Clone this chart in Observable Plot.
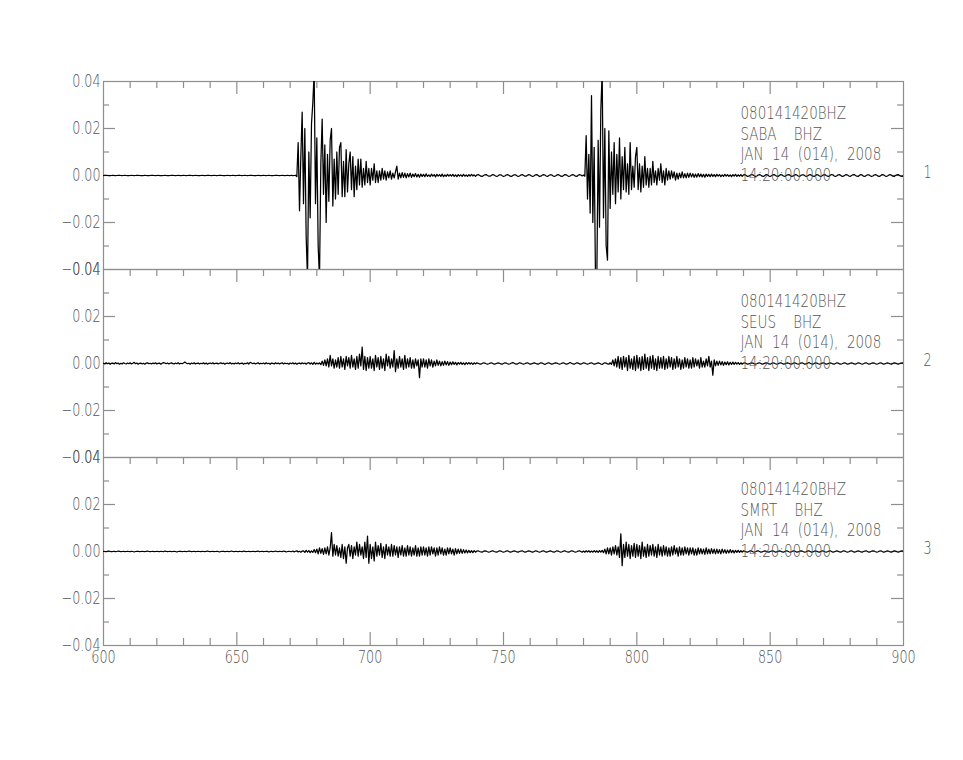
<!DOCTYPE html>
<html>
<head>
<meta charset="utf-8">
<script src="https://cdn.jsdelivr.net/npm/d3@7"></script>
<script src="https://cdn.jsdelivr.net/npm/@observablehq/plot@0.6"></script>
<style>
  html, body { margin: 0; padding: 0; background: #fff; }
  #wrap { position: relative; width: 963px; height: 760px; overflow: hidden; }
  #wrap svg { position: absolute; left: 0; }
</style>
</head>
<body>
<div id="wrap"></div>
<script>
// ---- data: ground velocity, units of 1e-3 (plotted as value/1000), sampled every 0.5 s from t = 600 s
const t0 = 600;
const dt = 0.5;

const saba = [
  0,0.1,0.1,0,-0.1,-0.1,0,0.1,0,-0.1,0,0.1,0.1,0,-0.1,0,0.1,0,-0.1,-0.1,
  0,0.1,0,-0.1,0,0.1,0.1,0,-0.1,0,0,0.1,0,-0.1,-0.1,0,0.1,0.1,0,-0.1,
  0,0.1,0,0,-0.1,0,0.1,0,-0.1,-0.1,0,0.1,0.1,0,-0.1,0,0.1,0,-0.1,0,
  0.1,0,-0.1,0,0.1,0.1,0,-0.1,0,0.1,0,-0.1,-0.1,0,0.1,0,-0.1,0,0.1,0.1,
  0,-0.1,0,0.1,0,-0.1,0,0.1,0.1,0,-0.1,-0.1,0,0.1,0,-0.1,0,0.1,0,-0.1,
  0,0.1,0.1,0,-0.1,0,0.1,0,-0.1,0,0.1,0.1,0,-0.1,-0.1,0,0.1,0,-0.1,0,
  0.1,0,-0.1,0,0.1,0,-0.1,-0.1,0,0.1,0.1,0,-0.1,0,0.1,0,-0.1,0,0.1,0,
  0,0.1,-0.1,0,0.1,-0.5,14,-15,8,27,-12,20,-26,-44,10,-18,22,31,44,-12,
  16,-30,-44,5,24,-8,13,-20,9,-11,15,20,-13,7,-10,10,-8,12,14,-9,
  6,-9,11,-7,5,10,-6,8,-9,4,-6,7,-4,7,-5,3,-4,6,-3,3,
  -4,3,-2,5,-3,2,-3,2,-2,3,-1.5,2,-2,1.5,-1,2,-1.5,1,-1,1.5,
  4,-1.5,1,-1,1.2,-0.8,1,-1,0.8,-0.6,1,-0.8,0.6,-0.5,0.8,-0.6,0.5,-0.7,0.6,-0.4,
  0.5,-0.5,0.7,-0.4,0.3,-0.5,0.6,-0.3,0.4,-0.6,0.5,-0.3,0.4,-0.4,0.6,-0.5,0.3,-0.4,0.5,-0.3,
  0.4,-0.3,0.5,-0.4,0.3,-0.5,0.4,-0.2,0.3,-0.4,0.5,-0.3,0.2,-0.4,0.4,-0.3,0.5,-0.2,0.3,-0.4,
  0.2,0.4,0.1,-0.3,-0.4,0,0.3,0.4,0,-0.3,-0.3,0.1,0.4,0.2,-0.2,-0.4,-0.1,0.3,0.3,-0.1,
  -0.4,-0.2,0.2,0.4,0.1,-0.3,-0.4,0,0.3,0.3,-0.1,-0.4,-0.2,0.2,0.4,0.1,-0.3,-0.3,0.1,0.4,
  0.2,-0.2,-0.4,-0.1,0.3,0.4,0,-0.4,-0.3,0.1,0.4,0.2,-0.2,-0.4,0,0.3,0.3,-0.1,-0.4,-0.2,
  0.2,0.4,0.1,-0.3,-0.4,0,0.4,0.3,-0.1,-0.4,-0.2,0.2,0.4,0.1,-0.3,-0.4,0.1,0.4,0.2,-0.2,
  0.2,-0.3,17,-10,9,-16,34,-20,12,-44,-44,15,-22,28,44,-18,20,-30,-36,19,
  -14,10,-8,14,-12,9,-7,16,-10,8,-6,12,-7,5,-8,14,-6,4,-5,8,
  12,-6,5,-7,4,-5,8,-4,3,-5,3,-4,6,-3,2,-4,3,-2,5,-3,
  2,-4,3,-2,2,-1.5,2,-1,1.5,-2,1,-1.5,1,-1,1.5,-1,0.8,-1,1,-0.8,
  1,-0.6,0.8,-0.8,0.6,-0.7,0.8,-0.5,0.6,-0.6,0.5,-0.7,0.6,-0.4,0.5,-0.5,0.6,-0.4,0.4,-0.5,
  0.5,-0.3,0.4,-0.5,0.3,-0.4,0.5,-0.3,0.4,-0.4,0.3,-0.5,0.4,-0.3,0.5,-0.4,0.3,-0.3,0.4,-0.4,
  0.3,0.4,0,-0.4,-0.3,0.1,0.4,0.3,-0.1,-0.4,-0.2,0.2,0.4,0.1,-0.3,-0.4,0,0.4,0.3,-0.2,
  -0.4,-0.1,0.3,0.4,0,-0.3,-0.4,0.1,0.4,0.2,-0.2,-0.4,0,0.3,0.4,0,-0.4,-0.3,0.1,0.4,
  0.2,-0.2,-0.4,0,0.3,0.3,-0.1,-0.4,-0.2,0.2,0.4,0.1,-0.3,-0.4,0,0.4,0.2,-0.2,-0.4,-0.1,
  0.3,0.4,0,-0.3,-0.4,0.1,0.4,0.3,-0.2,-0.4,-0.1,0.3,0.4,0,-0.4,-0.3,0.1,0.4,0.2,-0.2,
  -0.4,0,0.3,0.4,0,-0.3,-0.4,0.1,0.4,0.2,-0.3,-0.4,0,0.3,0.3,-0.1,-0.4,-0.2,0.2,0.4,
  0.1,-0.3,-0.4,0,0.4,0.3,-0.1,-0.4,-0.2,0.2,0.4,0.1,-0.3,-0.4,0,0.3,0.4,0,-0.3,-0.4,
  0
];

const seus = [
  0.1,-0.2,0.3,-0.1,0.2,-0.3,0.1,0.2,-0.2,0.4,-0.1,0.2,-0.3,0.1,-0.2,0.3,0,-0.2,0.2,-0.1,
  0.3,-0.2,0.1,0.5,-0.1,0.2,-0.3,0.1,0.2,-0.2,0.1,-0.3,0.2,0.3,-0.1,0.1,-0.2,0.2,-0.1,0.3,
  -0.2,0.1,0.2,-0.3,0.1,0.4,0.2,-0.1,0.2,-0.2,0.1,0.3,-0.1,-0.2,0.2,-0.1,0.3,-0.2,0.1,-0.1,
  0.2,0.6,0.2,-0.1,0.1,-0.3,0.2,-0.1,0.3,-0.2,0.1,0.2,-0.2,0.1,-0.1,0.3,-0.2,0.2,-0.3,0.1,
  0.2,-0.1,0.3,-0.2,0.1,0.2,-0.2,0.1,0.3,-0.1,0.2,-0.3,0.1,0.2,-0.1,0.4,-0.2,0.1,-0.2,0.2,
  -0.1,0.3,-0.2,0.1,0.2,-0.3,0.1,-0.1,0.3,-0.2,0.5,0.2,-0.1,0.2,-0.2,0.1,0.3,-0.2,0.1,-0.1,
  0.2,-0.2,0.3,-0.1,0.1,-0.3,0.2,0.1,-0.2,0.3,-0.1,0.2,-0.2,0.1,0.3,-0.2,0.2,-0.1,0.1,-0.3,
  0.2,-0.1,0.3,-0.2,0.2,-0.3,0.1,0.2,-0.2,0.3,-0.1,0.2,-0.3,0.2,0.4,-0.2,0.3,-0.4,0.5,-0.3,
  0.2,-0.2,0.3,-0.5,1,-0.8,1.5,-1,2,-1.5,3.5,-1,2,-2,1.5,-1.5,2.5,-2,3,-1.5,
  2,-2.5,3,-1,2.5,-2,3.5,-1.5,2,-2.5,3,-2,4,-1,7,-2.5,3,-3,2.5,-2,
  3,-2,2,-3,3.5,-1.5,2.5,-2.5,3,-2,2,-3,4,-1,3,-2,2,-1.5,5.5,-3.5,
  2,-2,3,-1.5,2,-2.5,3.5,-2,2,-1.5,2.5,-2,1.5,-2,2,-1,1.5,-6,2,-1.5,
  2,-1.5,1.5,-2,2,-1,1.5,-1.5,1,-1,1.5,-0.8,1,-1,0.8,-0.8,1,-0.6,0.8,-0.8,
  0.6,-0.5,0.7,-0.4,0.5,-0.6,0.4,-0.3,0.5,-0.4,0.3,-0.5,0.4,-0.3,0.4,-0.2,0.3,-0.4,0.3,-0.2,
  0.3,0.1,-0.2,-0.3,0,0.3,0.2,-0.1,-0.3,-0.1,0.2,0.3,0,-0.3,-0.2,0.1,0.3,0.1,-0.2,-0.3,
  0,0.3,0.2,-0.1,-0.3,-0.1,0.2,0.4,0.1,-0.2,-0.3,0,0.3,0.2,-0.1,-0.3,-0.1,0.2,0.3,0,
  -0.3,-0.2,0.1,0.3,0.1,-0.2,-0.3,0,0.3,0.2,-0.1,-0.4,-0.1,0.2,0.3,0,-0.3,-0.2,0.1,0.3,
  0.2,-0.1,-0.3,-0.1,0.2,0.3,0,-0.3,-0.2,0.1,0.4,0.1,-0.2,-0.3,0,0.3,0.2,-0.2,-0.3,0,
  0.3,0.2,-0.1,-0.3,-0.1,0.2,0.3,0,-0.3,-0.2,0.1,0.3,0.1,-0.2,-0.4,0,0.3,0.2,-0.2,-0.3,
  0.3,-0.4,1.5,-1,2,-1.5,3,-2,2.5,-2.5,3,-1.5,2.5,-3,3.5,-2,2,-2.5,3,-3,
  3.5,-2,2.5,-3,3,-2.5,4,-2,2.5,-3,3,-2,3.5,-2.5,2,-3,3,-2,2.5,-2,
  3,-2.5,2,-2,3,-1.5,2.5,-2.5,2,-2,3,-1.5,2,-2.5,1.5,-2,2.5,-1.5,2,-2,
  1.5,-2,2.5,-1.5,2,-1,1.5,-2,2.5,-1.5,1,-1.5,2,-1,3,-1.5,1,-5,1.5,-1,
  1,-0.8,1,-0.6,0.8,-0.8,0.6,-0.5,0.7,-0.6,0.5,-0.4,0.6,-0.4,0.5,-0.3,0.4,-0.4,0.3,-0.3,
  0.2,0.3,0,-0.3,-0.2,0.1,0.3,0.2,-0.1,-0.3,-0.1,0.2,0.3,0,-0.3,-0.2,0.2,0.3,0.1,-0.2,
  -0.3,0,0.3,0.2,-0.1,-0.3,-0.1,0.2,0.3,0,-0.3,-0.2,0.1,0.3,0.1,-0.2,-0.3,0,0.3,0.2,
  -0.1,-0.3,-0.1,0.2,0.3,0,-0.3,-0.2,0.1,0.4,0.1,-0.2,-0.3,0,0.3,0.2,-0.1,-0.3,-0.1,0.2,
  0.3,0,-0.3,-0.2,0.1,0.3,0.1,-0.2,-0.3,0,0.3,0.2,-0.2,-0.3,-0.1,0.2,0.3,0,-0.3,-0.2,
  0.1,0.3,0.1,-0.2,-0.3,0,0.3,0.2,-0.1,-0.3,-0.1,0.2,0.3,0,-0.3,-0.2,0.1,0.3,0.2,-0.1,
  -0.3,-0.1,0.2,0.3,0,-0.3,-0.2,0.1,0.3,0.1,-0.2,-0.3,0,0.3,0.2,-0.1,-0.3,-0.1,0.2,0.3,
  0
];

const smrt = [
  0.1,0,-0.1,0.1,0.2,0,-0.1,0,0.1,-0.1,0,0.2,0.1,-0.1,0,0.1,-0.1,0,0.1,0,
  -0.1,0.1,0,-0.2,0,0.1,0.1,-0.1,0,0.1,0,-0.1,0.1,0.2,0,-0.1,0,0.1,-0.1,0,
  0.1,0,-0.1,0.1,0,-0.1,0.2,0.1,-0.1,0,0.1,-0.1,0,0.1,0,-0.2,0,0.1,0.1,-0.1,
  0,0.1,-0.1,0,0.2,0.1,-0.1,0,0.1,-0.1,0,0.1,0,-0.1,0.1,0,-0.1,0.1,0.2,0,
  -0.1,0,0.1,-0.1,0,0.1,0,-0.2,0,0.1,0.1,-0.1,0,0.1,-0.1,0,0.2,0,-0.1,0.1,
  0,-0.1,0.1,0,-0.1,0.2,0.1,-0.1,0,0.1,-0.1,0,0.1,0,-0.1,0.1,0.2,-0.1,0,0.1,
  -0.1,0,0.1,0.1,-0.2,0,0.1,-0.1,0,0.2,0,-0.1,0.1,0,-0.1,0.2,0.1,-0.2,0,0.1,
  0,-0.1,0.2,-0.2,0.1,0.3,-0.2,0.1,-0.3,0.2,0.3,-0.4,0.5,-0.3,0.4,-0.5,0.3,-0.4,0.8,-0.5,
  1,-1,1.5,-0.8,1.2,-1.2,1.5,-1,2,-1.5,1.5,8,-2,3,-1.5,2.5,-2,1.5,-2.5,3,
  -3,2,-5,1.5,3,-2,2.5,-3,2,-1.5,4,-2,3,-1.5,2,-3,4,-2.5,6.5,-5,
  3,-3,2,-4,4,-2,2.5,-1.5,3.5,-2.5,2,-3,3,-1.5,2,-2,3,-2,2.5,-1.5,
  2,-2.5,2,-1.5,2.5,-2,1.5,-2,2.5,-1.5,2,-2,1.5,-1.5,2.5,-2,1.5,-2,2,-1.5,
  2,-1.5,1.5,-2,2,-1.5,2,-1,1.5,-2,1.5,-1.5,2,-1,1.5,-1.5,1,-1.5,1.5,-1,
  1.5,-1,1,-1.5,1.2,-1,1,-0.8,1,-0.8,0.8,-0.6,0.6,-0.6,0.5,-0.5,0.4,-0.5,0.4,-0.3,
  0.2,0.3,0,-0.2,-0.3,0.1,0.3,0.2,-0.1,-0.3,-0.1,0.2,0.3,0,-0.2,-0.3,0,0.3,0.2,-0.1,
  -0.3,-0.1,0.2,0.3,0,-0.3,-0.2,0.1,0.3,0.1,-0.2,-0.3,0,0.2,0.3,0,-0.3,-0.2,0.1,0.3,
  0.1,-0.2,-0.3,0,0.3,0.2,-0.1,-0.3,-0.1,0.2,0.3,0,-0.3,-0.2,0.1,0.3,0.1,-0.2,-0.3,0,
  0.3,0.2,-0.1,-0.3,-0.1,0.2,0.3,0,-0.2,-0.3,0,0.3,0.2,-0.1,-0.3,-0.1,0.2,0.3,0,-0.3,
  0.2,-0.3,0.3,-0.2,0.3,-0.3,0.2,-0.3,0.4,-0.3,0.3,-0.4,0.4,-0.3,0.5,-0.5,1,-1,1.5,-1,
  1.5,-1.5,2,-1,2.5,-1.5,2,-2.5,7.5,-6,3,-2.5,4,-2,3,-3,2.5,-2,3.5,-2.5,
  3,-2,2.5,-3,4,-2,2,-2.5,3,-2,2.5,-1.5,3,-2,2,-2.5,3,-1.5,2,-2,
  2.5,-1.5,2,-2,1.5,-2,2,-1.5,2.5,-1,1.5,-2,2,-1.5,1.5,-1.5,2,-1,1.5,-1.5,
  1.5,-1,1.5,-1.5,1,-1.5,1.5,-1,1.2,-1,1,-1.2,1.5,-1,1,-1,1.2,-0.8,1,-1,
  1,-0.8,0.8,-1,1,-0.6,0.8,-0.8,0.6,-0.6,0.8,-0.5,0.5,-0.6,0.5,-0.4,0.5,-0.4,0.4,-0.3,
  0.3,0.1,-0.2,-0.3,0,0.3,0.2,-0.1,-0.3,-0.1,0.2,0.3,0,-0.3,-0.2,0.1,0.3,0.1,-0.2,-0.3,
  0,0.2,0.3,0,-0.3,-0.2,0.1,0.3,0.1,-0.2,-0.3,0,0.3,0.2,-0.1,-0.3,-0.1,0.2,0.3,0,
  -0.3,-0.2,0.1,0.3,0.2,-0.1,-0.3,-0.1,0.2,0.3,0,-0.3,-0.2,0.1,0.3,0.1,-0.2,-0.3,0,0.3,
  0.2,-0.1,-0.3,-0.1,0.2,0.3,0,-0.3,-0.2,0.1,0.3,0.1,-0.2,-0.3,0,0.3,0.2,-0.1,-0.3,-0.1,
  0.2,0.3,0,-0.3,-0.2,0.1,0.3,0.1,-0.2,-0.3,0,0.2,0.3,0,-0.3,-0.2,0.1,0.3,0.2,-0.1,
  -0.3,-0.1,0.2,0.3,0,-0.3,-0.2,0.1,0.3,0.1,-0.2,-0.3,0,0.3,0.2,-0.1,-0.3,-0.1,0.2,0.3,
  0
];

const traces = [saba, seus, smrt];
const stations = ["SABA", "SEUS", "SMRT"];
const channel = "BHZ";
const fileNames = ["080141420BHZ", "080141420BHZ", "080141420BHZ"];
const dateLine = "JAN\u00a0\u00a014\u00a0\u00a0(014),\u00a0\u00a02008";
const timeLine = "14:20:00.000";
const panelNumbers = ["1", "2", "3"];

const xDomain = [600, 900];
const yDomain = [-0.04, 0.04];
const xLabelTicks = [600, 650, 700, 750, 800, 850, 900];
const yLabelTicks = [-0.04, -0.02, 0, 0.02, 0.04];

// ---- layout
const W = 963, ML = 103, MR = 60, PANEL_H = 188, TOP0 = 81;
const FRAME_W = W - ML - MR;
const GRAY = "#8e8e8e", TEXT = "#555";
const FONT = "'DejaVu Sans', 'Liberation Sans', Arial, sans-serif";

const xMajor = d3.range(650, 900, 50);
const xMinor = d3.range(610, 900, 10).filter(d => d % 50 !== 0);
const yMajor = [-0.02, 0, 0.02];
const yMinor = [-0.03, -0.01, 0.01, 0.03];
const nb = "\u00a0";

const wrap = document.getElementById("wrap");

traces.forEach((trace, i) => {
  const last = i === traces.length - 1;
  const mTop = 20, mBottom = last ? 40 : 20;
  const H = mTop + PANEL_H + mBottom;
  const pts = trace.map((v, k) => ({t: t0 + k * dt, v: v / 1000}));
  const annot = [fileNames[i], stations[i] + nb.repeat(4) + channel, dateLine, timeLine].join("\n");

  const marks = [
    Plot.frame({stroke: GRAY, strokeWidth: 1.2}),
    // x ticks on top edge (inward)
    Plot.tickX(xMajor, {x: d => d, stroke: GRAY, strokeWidth: 1.2, insetBottom: PANEL_H - 13}),
    Plot.tickX(xMinor, {x: d => d, stroke: GRAY, strokeWidth: 1.2, insetBottom: PANEL_H - 7}),
    // y ticks on left and right edges (inward)
    Plot.tickY(yMajor, {y: d => d, stroke: GRAY, strokeWidth: 1.2, insetRight: FRAME_W - 12}),
    Plot.tickY(yMinor, {y: d => d, stroke: GRAY, strokeWidth: 1.2, insetRight: FRAME_W - 6}),
    Plot.tickY(yMajor, {y: d => d, stroke: GRAY, strokeWidth: 1.2, insetLeft: FRAME_W - 12}),
    Plot.tickY(yMinor, {y: d => d, stroke: GRAY, strokeWidth: 1.2, insetLeft: FRAME_W - 6}),
    Plot.line(pts, {x: "t", y: "v", stroke: "#000", strokeWidth: 1.25, clip: true}),
    Plot.text([annot], {
      text: d => d, frameAnchor: "top-left", dx: 637, dy: 23,
      textAnchor: "start", lineAnchor: "top", lineHeight: 1.14,
      fontSize: 18, fill: TEXT
    }),
    Plot.text([panelNumbers[i]], {
      text: d => d, frameAnchor: "right", dx: 24, dy: -3,
      textAnchor: "middle", fontSize: 17, fill: TEXT
    })
  ];
  if (last) {
    marks.push(Plot.tickX(xMajor, {x: d => d, stroke: GRAY, strokeWidth: 1.2, insetTop: PANEL_H - 13}));
    marks.push(Plot.tickX(xMinor, {x: d => d, stroke: GRAY, strokeWidth: 1.2, insetTop: PANEL_H - 7}));
  }

  const chart = Plot.plot({
    width: W, height: H,
    marginLeft: ML, marginRight: MR, marginTop: mTop, marginBottom: mBottom,
    style: {background: "transparent", fontFamily: FONT, fontSize: "17px", color: TEXT, overflow: "visible"},
    x: last
      ? {domain: xDomain, ticks: xLabelTicks, tickSize: 0, tickPadding: 5, tickFormat: d => String(d), label: null}
      : {domain: xDomain, axis: null},
    y: {domain: yDomain, ticks: yLabelTicks, tickSize: 0, tickPadding: 3,
        tickFormat: d => d3.format(".2f")(d), label: null},
    marks
  });
  // narrow, tall, thin lettering like the original plotter font
  d3.select(chart).selectAll("text").each(function() {
    const tr = this.getAttribute("transform");
    this.setAttribute("transform", (tr ? tr + " " : "") + "scale(0.75,1)");
    this.style.fontWeight = "200";
  });
  chart.style.top = (TOP0 + PANEL_H * i - mTop) + "px";
  wrap.appendChild(chart);
});
</script>
</body>
</html>
